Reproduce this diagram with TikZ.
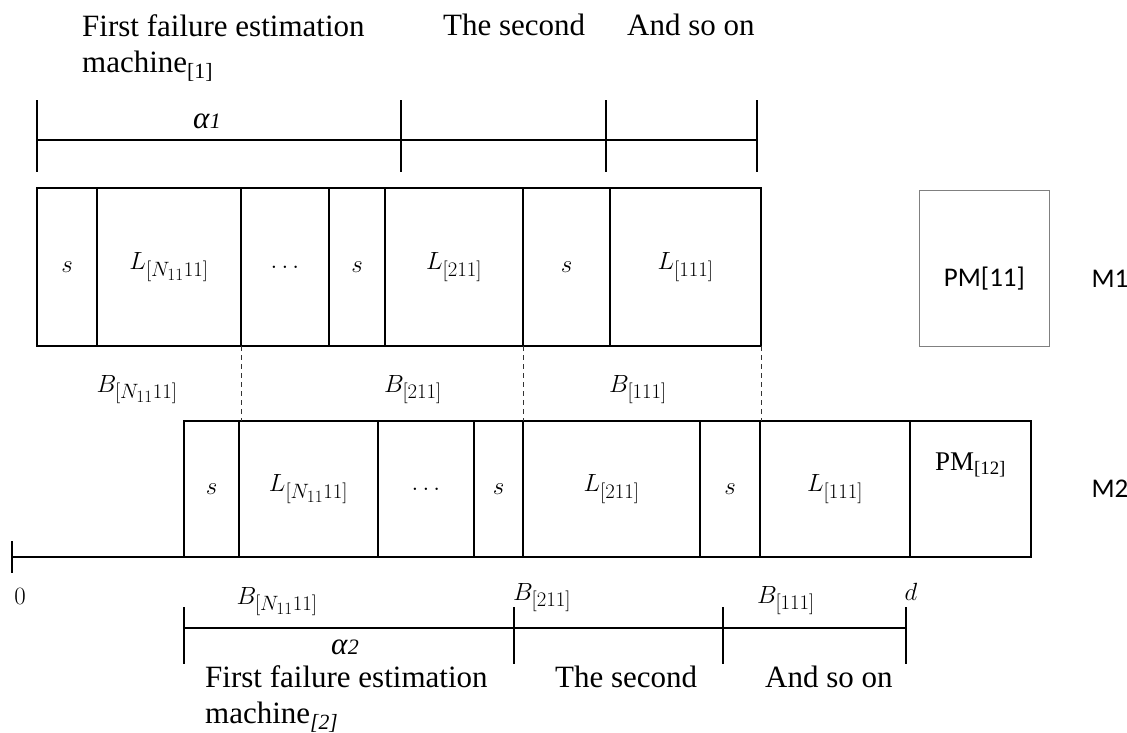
\documentclass[tikz,border=0pt]{standalone}
\usepackage{fontspec}
\setmainfont{Liberation Serif}
\newfontfamily\calibfont{Carlito}
\usetikzlibrary{positioning}
\DeclareMathSizes{25}{25}{20}{16}
\newcommand{\mathsize}{\fontsize{25}{30}\selectfont}
\tikzset{
  slot/.style={draw, line width=1.5pt, inner sep=0pt, outer sep=0pt, font=\mathsize},
  slotA/.style={slot, minimum height=158pt},
  slotB/.style={slot, minimum height=136pt},
  pmbox/.style={draw=black!50, line width=0.8pt, minimum width=130pt, minimum height=156pt, inner sep=0pt},
  tag/.style={inner sep=0pt, font=\calibfont\fontsize{27}{32}\selectfont},
  prose/.style={inner sep=0pt, align=left, font=\fontsize{31}{36}\selectfont},
  mlabel/.style={inner sep=0pt, font=\mathsize},
  span/.style={line width=1.6pt},
  tickmark/.style={line width=1.3pt},
  guide/.style={line width=1pt, dash pattern=on 5pt off 4pt, draw=black!80}
}

\begin{document}
\begin{tikzpicture}[x=1pt, y=-1pt]
  \useasboundingbox (0,0) rectangle (1127,732);

  % headings of machine 1
  \node[prose, anchor=north west] (head1) at (82,14) {First failure estimation\\machine\textsubscript{[1]}};
  \node[prose, anchor=north west] (head2) at (443,14) {The second};
  \node[prose, anchor=north west] (head3) at (627,14) {And so on};

  % span of machine 1
  \coordinate (a0) at (37,140);
  \coordinate (a1) at (401,140);
  \coordinate (a2) at (606,140);
  \coordinate (a3) at (757,140);
  \draw[span] (a0) -- (a3);
  \foreach \c in {a0,a1,a2,a3}
    \draw[tickmark] ([yshift=40pt]\c) -- ([yshift=-32pt]\c);
  \node[prose, anchor=base] (alpha1) at (207,128) {\textit{α}{\itshape\fontsize{22}{22}\selectfont 1}};

  % machine 1
  \node[slotA, minimum width=60pt, anchor=north west] (m1s1) at (37,188) {$s$};
  \node[slotA, minimum width=144pt, right=0pt of m1s1] (m1L1) {$L_{[N_{11}11]}$};
  \node[slotA, minimum width=88pt, right=0pt of m1L1] (m1dots) {$\dots$};
  \node[slotA, minimum width=56pt, right=0pt of m1dots] (m1s2) {$s$};
  \node[slotA, minimum width=138pt, right=0pt of m1s2] (m1L2) {$L_{[211]}$};
  \node[slotA, minimum width=87pt, right=0pt of m1L2] (m1s3) {$s$};
  \node[slotA, minimum width=151pt, right=0pt of m1s3] (m1L3) {$L_{[111]}$};
  \node[pmbox, anchor=north west, label={[tag, yshift=-10pt]center:PM[11]}] (pm11) at (919,190) {};
  \node[tag] (m1tag) at (1110,279) {M1};

  \node[mlabel, anchor=base] (bN1) at (137,392) {$B_{[N_{11}11]}$};
  \node[mlabel, anchor=base] (b21) at (413,392) {$B_{[211]}$};
  \node[mlabel, anchor=base] (b11) at (638,392) {$B_{[111]}$};

  % machine 2
  \node[slotB, minimum width=55pt, anchor=north west] (m2s1) at (184,421) {$s$};
  \node[slotB, minimum width=139pt, right=0pt of m2s1] (m2L1) {$L_{[N_{11}11]}$};
  \node[slotB, minimum width=96pt, right=0pt of m2L1] (m2dots) {$\dots$};
  \node[slotB, minimum width=49pt, right=0pt of m2dots] (m2s2) {$s$};
  \node[slotB, minimum width=177pt, right=0pt of m2s2] (m2L2) {$L_{[211]}$};
  \node[slotB, minimum width=60pt, right=0pt of m2L2] (m2s3) {$s$};
  \node[slotB, minimum width=150pt, right=0pt of m2s3] (m2L3) {$L_{[111]}$};
  \node[slotB, minimum width=121pt, right=0pt of m2L3,
    label={[prose, font=\fontsize{27}{32}\selectfont, yshift=24pt]center:PM\textsubscript{[12]}}] (m2pm) {};
  \node[tag] (m2tag) at (1110,489) {M2};

  \draw[guide] (m1dots.south west) -- (m1dots.south west |- m2L1.north);
  \draw[guide] (m1s3.south west) -- (m1s3.south west |- m2L2.north);
  \draw[guide] (m1L3.south east) -- (m1L3.south east |- m2L3.north);

  % time axis
  \coordinate (zero) at (12,557);
  \draw[span] (zero) -- (m2s1.south west);
  \draw[tickmark] ([yshift=16pt]zero) -- ([yshift=-16pt]zero);
  \node[mlabel, anchor=base] (zlab) at (20,604) {$0$};
  \node[mlabel, anchor=base] (bN2) at (277,604) {$B_{[N_{11}11]}$};
  \node[mlabel, anchor=base west] (b22) at (513,600) {$B_{[211]}$};
  \node[mlabel, anchor=base] (b12) at (786,603) {$B_{[111]}$};
  \node[mlabel, anchor=base] (dlab) at (911,600) {$d$};

  % span of machine 2
  \coordinate (c0) at (184,628);
  \coordinate (c1) at (514,628);
  \coordinate (c2) at (723,628);
  \coordinate (c3) at (906,628);
  \draw[span] (c0) -- (c3);
  \foreach \c in {c0,c1,c2,c3}
    \draw[tickmark] ([yshift=21pt]\c) -- ([yshift=-36pt]\c);
  \node[prose, anchor=base] (alpha2) at (345,654) {\textit{α}{\itshape\fontsize{22}{22}\selectfont 2}};

  % headings of machine 2
  \node[prose, anchor=north west] (foot1) at (205,665) {First failure estimation\\machine\textsubscript{\textit{[2]}}};
  \node[prose, anchor=north west] (foot2) at (555,666) {The second};
  \node[prose, anchor=north west] (foot3) at (765,666) {And so on};
\end{tikzpicture}
\end{document}
